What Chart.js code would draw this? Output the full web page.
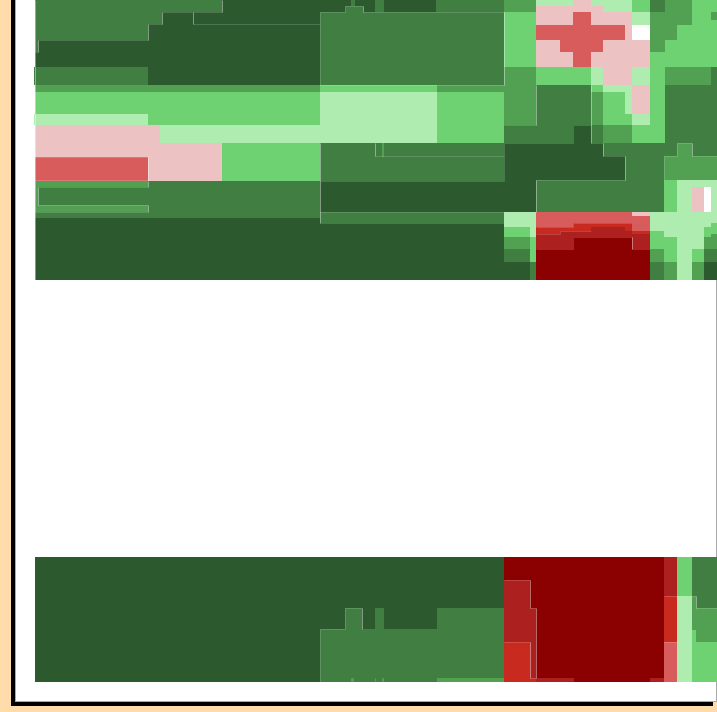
<!DOCTYPE html>
<html>
<head>
<meta charset="utf-8">
<script src="https://cdn.jsdelivr.net/npm/chart.js@4"></script>
<style>
  html, body { margin: 0; padding: 0; overflow: hidden; background: #ffdcaa; }
  #panel { position: absolute; left: 15px; top: -10px; width: 700px; height: 710px;
           background: #fff; border: 1px solid #aaa; box-shadow: -4px 4px 0 #000; }
  #grafica { position: absolute; left: 0; top: 0; }
</style>
</head>
<body>
<div id="panel"></div>
<canvas id="grafica" width="717" height="712"></canvas>
<script>
// niveles: 0 verde oscuro ... 4 verde palido, 5 rosa ... 9 rojo oscuro, 10 blanco
const coloresNivel = ['#2c5a2e', '#407e42', '#52a052', '#6fd272', '#afecaf',
                      '#ecc2c2', '#d95c5c', '#c92a20', '#ad2020', '#8b0000', '#ffffff'];

// cada fila: desde, hasta, inicio, y luego pares fin-de-tramo, nivel
const arribaIzq = [
  [0, 6, 35, 222,1, 351,0, 355,1, 375,0, 384,1, 436,0, 504,1],
  [6, 12, 35, 222,1, 345,0, 363,1, 375,0, 384,1, 436,0, 504,1],
  [12, 24, 35, 162,1, 320,0, 504,1],
  [24, 40, 35, 148,1, 320,0, 504,1],
  [40, 52, 35, 38,1, 320,0, 504,1],
  [52, 67, 35, 320,0, 504,1],
  [67, 85, 34, 148,1, 320,0, 504,1],
  [85, 92, 35, 320,2, 437,3, 504,2],
  [92, 114, 35, 320,3, 437,4, 504,3],
  [114, 125, 34, 148,4, 320,3, 437,4, 504,3],
  [125, 143, 35, 160,5, 437,4, 504,3],
  [143, 157, 35, 222,5, 320,3, 382,1, 384,2, 504,1],
  [157, 181, 35, 148,6, 222,5, 320,3, 504,1],
  [181, 187, 35, 148,2, 320,1, 504,0],
  [187, 205, 35, 38,2, 320,1, 504,0],
  [205, 212, 35, 148,2, 320,1, 504,0],
  [212, 218, 35, 504,1],
  [218, 223, 35, 320,0, 504,1],
  [223, 280, 35, 504,0]
];

const arribaDer = [
  [0, 6, 504, 536,2, 573,4, 591,5, 632,4, 650,3, 665,1, 692,2, 717,3],
  [6, 12, 504, 536,2, 603,5, 632,4, 650,3, 665,1, 692,2, 717,3],
  [12, 20, 504, 536,3, 573,5, 591,6, 632,5, 650,4, 692,2, 711,3, 717,2],
  [20, 25, 504, 536,3, 573,5, 591,6, 632,5, 650,4, 692,2, 717,3],
  [25, 40, 504, 536,3, 625,6, 632,5, 650,10, 677,2, 717,3],
  [40, 52, 504, 536,3, 560,5, 603,6, 650,5, 665,2, 717,3],
  [52, 67, 504, 536,3, 573,5, 591,6, 650,5, 717,3],
  [67, 85, 504, 536,2, 591,3, 603,4, 632,5, 650,4, 665,3, 711,2, 717,1],
  [85, 92, 504, 536,2, 591,1, 603,3, 632,4, 650,5, 665,3, 717,1],
  [92, 114, 504, 536,2, 591,1, 603,2, 625,3, 632,4, 650,5, 665,3, 717,1],
  [114, 125, 504, 536,2, 591,1, 603,2, 632,3, 650,4, 665,3, 717,1],
  [125, 143, 504, 573,1, 591,0, 603,1, 632,2, 665,3, 717,1],
  [143, 156, 504, 603,0, 677,1, 692,2, 717,1],
  [156, 180, 504, 625,0, 664,1, 717,2],
  [180, 187, 504, 536,0, 664,1, 677,3, 717,4],
  [187, 212, 504, 536,0, 664,1, 677,3, 692,4, 704,5, 711,10, 717,4],
  [212, 216, 504, 536,4, 632,6, 650,5, 717,4],
  [216, 223, 504, 536,4, 650,6, 717,4],
  [223, 227, 504, 536,4, 573,6, 632,7, 650,6, 711,4, 717,3],
  [227, 231, 504, 530,3, 536,4, 591,7, 625,8, 632,7, 650,6, 704,4, 717,3],
  [231, 234, 504, 530,3, 536,4, 560,7, 632,8, 650,7, 664,3, 704,4, 717,3],
  [234, 237, 504, 530,3, 536,4, 650,8, 664,3, 704,4, 711,3, 717,2],
  [237, 249, 504, 530,2, 536,3, 573,8, 632,9, 650,8, 677,3, 704,4, 717,2],
  [249, 262, 504, 530,1, 536,3, 650,9, 664,2, 677,3, 692,4, 704,3, 717,1],
  [262, 280, 504, 530,0, 536,1, 650,9, 664,1, 677,2, 692,4, 704,2, 717,0]
];

const abajoIzq = [
  [557, 608, 35, 504,0],
  [608, 629, 35, 345,0, 362,1, 375,0, 384,1, 437,0, 504,1],
  [629, 678, 35, 320,0, 504,1],
  [678, 682, 35, 320,0, 351,1, 354,2, 375,1, 376,2, 382,1, 384,2, 437,1, 504,2]
];

const abajoDer = [
  [557, 580, 504, 664,9, 677,8, 692,3, 717,1],
  [580, 596, 504, 530,8, 664,9, 677,8, 692,3, 717,1],
  [596, 608, 504, 530,8, 664,9, 677,7, 692,4, 696,2, 717,1],
  [608, 630, 504, 536,8, 664,9, 677,7, 692,4, 717,2],
  [630, 642, 504, 536,8, 664,9, 677,7, 692,4, 696,3, 717,2],
  [642, 678, 504, 530,7, 536,8, 664,9, 677,6, 692,4, 717,3],
  [678, 682, 504, 536,7, 574,8, 650,9, 664,8, 677,6, 692,4, 717,3]
];

// bordes finos que separan algunos bloques
const bordes = [
  [[35,0],[35,280]],
  [[222,0],[222,12],[162,12],[162,24],[148,24],[148,40],[38,40],[38,52],[35,52]],
  [[193,12],[193,24],[320,24]],
  [[320,85],[320,12],[345,12],[345,6],[363,6],[363,12],[504,12],[504,85],[320,85]],
  [[320,143],[320,181],[504,181],[504,143]],
  [[375,143],[375,156],[504,156]],
  [[320,181],[320,212],[504,212]],
  [[320,212],[320,223],[504,223]],
  [[35,157],[148,157],[148,180],[35,180]],
  [[148,181],[148,187],[38,187],[38,205],[148,205],[148,212],[35,212]],
  [[536,85],[536,125],[504,125]],
  [[504,143],[573,143],[573,125],[591,125]],
  [[591,85],[591,143],[603,143],[603,156],[625,156],[625,180],[536,180],[536,212]],
  [[664,180],[664,156],[677,156],[677,143],[692,143],[692,156],[717,156]],
  [[536,227],[573,227],[573,223],[632,223]],
  [[536,249],[573,249],[573,237],[632,237],[632,249],[650,249]],
  [[536,234],[560,234],[560,231],[591,231]],
  [[320,682],[320,629],[345,629],[345,608],[362,608],[362,629]],
  [[504,580],[530,580],[530,608],[536,608],[536,678]],
  [[504,642],[530,642],[530,678],[536,678]],
  [[664,596],[677,596]],
  [[664,642],[677,642]],
  [[692,596],[696,596],[696,608],[717,608]]
];

const ancho = 717;
const alto = 712;

function filaADataset(fila) {
  const desde = fila[0];
  const hasta = fila[1];
  let inicio = fila[2];
  const datos = [];
  const colores = [];
  for (let i = 3; i < fila.length; i += 2) {
    datos.push({ x: [inicio, fila[i]], y: (desde + hasta) / 2 });
    colores.push(coloresNivel[fila[i + 1]]);
    inicio = fila[i];
  }
  return {
    type: 'bar',
    data: datos,
    backgroundColor: colores,
    barThickness: hasta - desde,
    borderWidth: 0,
    borderSkipped: false,
    inflateAmount: 0,
    stack: 'celdas'
  };
}

const filas = [...arribaIzq, ...arribaDer, ...abajoIzq, ...abajoDer];
const datasets = filas.map(filaADataset);

bordes.forEach(b => {
  datasets.push({
    type: 'line',
    data: b.map(p => ({ x: p[0] + 0.5, y: p[1] + 0.5 })),
    borderColor: 'rgba(255,255,255,0.16)',
    borderWidth: 1,
    pointRadius: 0,
    fill: false,
    tension: 0,
    order: -1
  });
});

new Chart(document.getElementById('grafica'), {
  type: 'bar',
  data: { datasets: datasets },
  options: {
    indexAxis: 'y',
    responsive: false,
    animation: false,
    layout: { padding: 0 },
    plugins: { legend: { display: false }, tooltip: { enabled: false } },
    scales: {
      x: { type: 'linear', min: 0, max: ancho, display: false, stacked: false },
      // offset false: si no, el eje de las barras deja margen arriba y abajo
      y: { type: 'linear', min: 0, max: alto, reverse: true, display: false, offset: false }
    }
  }
});
</script>
</body>
</html>
